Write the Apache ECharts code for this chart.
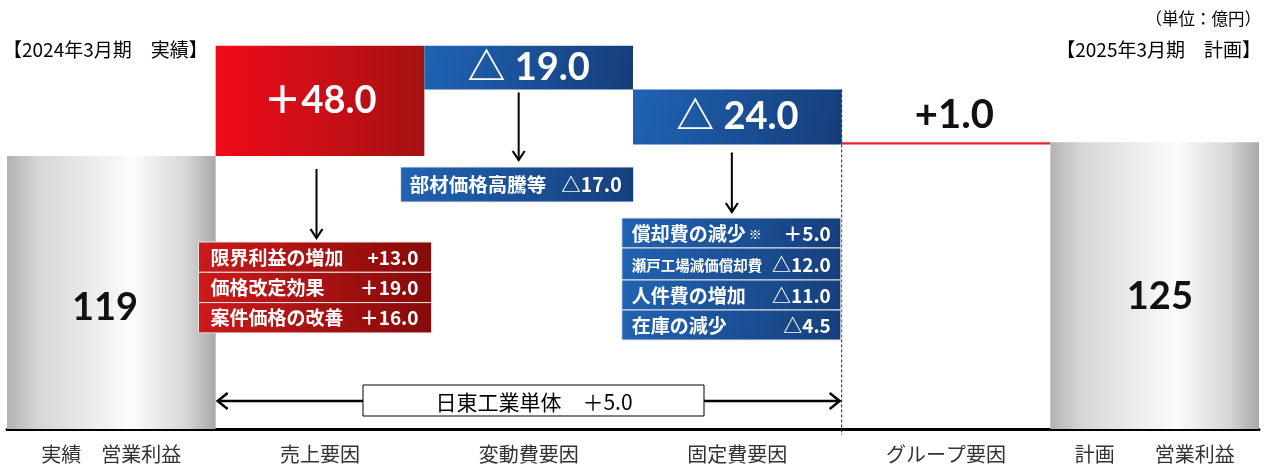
<!DOCTYPE html>
<html><head><meta charset="utf-8">
<script src="https://cdn.jsdelivr.net/npm/echarts@6/dist/echarts.min.js"></script>
<style>html,body{margin:0;padding:0;background:#fff}#c{width:1266px;height:467px}</style>
</head><body><div id="c"></div>
<script>
// ---- data ----
const categories = ['実績　営業利益', '売上要因', '変動費要因', '固定費要因', 'グループ要因', '計画　　営業利益'];
const startValue = 119;
const deltas = [48, -19, -24, 1];
const endValue = 125;
const totalLabels = ['119', '125'];
const deltaLabels = ['＋48.0', '△ 19.0', '△ 24.0', '+1.0'];
const salesItems = [['限界利益の増加', '+13.0'], ['価格改定効果', '＋19.0'], ['案件価格の改善', '＋16.0']];
const variableItems = [['部材価格高騰等', '△17.0']];
const fixedItems = [['償却費の減少', '＋5.0'], ['瀬戸工場減価償却費', '△12.0'], ['人件費の増加', '△11.0'], ['在庫の減少', '△4.5']];
const standaloneLabel = '日東工業単体　＋5.0';
const unitLabel = '（単位：億円）';
const leftTitle = '【2024年3月期　実績】';
const rightTitle = '【2025年3月期　計画】';

const JP = "'Noto Sans CJK JP', 'Noto Sans', sans-serif";
const NUM = "Lato, 'Noto Sans CJK JP', sans-serif";
const G = echarts.graphic;

const grayGrad = () => new G.LinearGradient(0, 0, 1, 0, [
  {offset: 0, color: '#b2b2b2'}, {offset: 0.15, color: '#d6d6d6'},
  {offset: 0.6, color: '#fcfcfc'}, {offset: 0.85, color: '#d8d8d8'}, {offset: 1, color: '#a8a8a8'}]);
const redGrad = () => new G.LinearGradient(0, 0, 1, 0, [
  {offset: 0, color: '#f00a1a'}, {offset: 1, color: '#a51212'}]);
const blueGrad = () => new G.LinearGradient(0, 0, 1, 1, [
  {offset: 0, color: '#1f63b4'}, {offset: 1, color: '#163d7a'}]);
const redBoxGrad = () => new G.LinearGradient(0, 0, 1, 1, [
  {offset: 0, color: '#cc1a1a'}, {offset: 1, color: '#860a0a'}]);
const blueBoxGrad = () => new G.LinearGradient(0, 0, 1, 1, [
  {offset: 0, color: '#2163b2'}, {offset: 1, color: '#163f7c'}]);

// ---- build waterfall ----
const baseData = [0];
const barData = [{
  value: startValue,
  itemStyle: {color: grayGrad()},
  label: {show: true, formatter: totalLabels[0], position: ['47%', 152], align: 'center', verticalAlign: 'middle',
    fontSize: 38, fontWeight: 'bold', fontFamily: NUM, color: '#111'}
}];
let running = startValue;
deltas.forEach((d, i) => {
  const base = d >= 0 ? running : running + d;
  baseData.push(base);
  const isGroup = i === deltas.length - 1;
  let item = {value: Math.abs(d)};
  if (isGroup) {
    item.itemStyle = {color: '#e3242b', borderColor: '#e3242b', borderWidth: 0.5};
    item.label = {show: true, formatter: deltaLabels[i], position: ['54%', -27], align: 'center', verticalAlign: 'middle',
      fontSize: 40, fontWeight: 'bold', fontFamily: NUM, color: '#111'};
  } else {
    item.itemStyle = {color: d >= 0 ? redGrad() : blueGrad()};
    item.label = {show: true, formatter: deltaLabels[i], position: 'inside',
      fontSize: 38, fontWeight: 'bold', fontFamily: NUM, color: '#fff'};
  }
  barData.push(item);
  running += d;
});
baseData.push(0);
barData.push({
  value: endValue,
  itemStyle: {color: grayGrad()},
  label: {show: true, formatter: totalLabels[1], position: ['52.5%', 155], align: 'center', verticalAlign: 'middle',
    fontSize: 38, fontWeight: 'bold', fontFamily: NUM, color: '#111'}
});

const chart = echarts.init(document.getElementById('c'), null, {renderer: 'canvas'});
chart.setOption({
  animation: false,
  backgroundColor: '#fff',
  grid: {left: 7, right: 7, top: 16, bottom: 38, containLabel: false},
  xAxis: {
    type: 'category', data: categories,
    axisLine: {lineStyle: {color: '#000', width: 3}},
    axisTick: {show: false},
    axisLabel: {fontSize: 20, fontFamily: JP, color: '#333', margin: 15, interval: 0}
  },
  yAxis: {type: 'value', min: 0, max: 180, show: false, splitLine: {show: false}},
  series: [
    {type: 'bar', stack: 'wf', data: baseData, itemStyle: {color: 'transparent'}, barCategoryGap: '0%', silent: true},
    {type: 'bar', stack: 'wf', data: barData, barCategoryGap: '0%'}
  ]
});

// ---- annotations ----
const X = i => chart.convertToPixel({xAxisIndex: 0}, categories[i]);
const Y = v => chart.convertToPixel({yAxisIndex: 0}, v);
const half = (X(1) - X(0)) / 2;
const els = [];

function text(t, x, y, opt) {
  els.push({type: 'text', z: 20, style: Object.assign({text: t, x: x, y: y, fill: '#000', fontSize: 17, fontFamily: JP,
    align: 'left', verticalAlign: 'middle'}, opt)});
}
function arrowDown(x, y1, y2) {
  els.push({type: 'polyline', z: 15, shape: {points: [[x, y1], [x, y2]]}, style: {stroke: '#000', lineWidth: 2}});
  els.push({type: 'polyline', z: 15, shape: {points: [[x - 6, y2 - 9], [x, y2], [x + 6, y2 - 9]]}, style: {stroke: '#000', lineWidth: 2.2, fill: null}});
}
function box(x, y, w, h, fill) {
  els.push({type: 'rect', z: 12, shape: {x: x, y: y, width: w, height: h}, style: {fill: fill, stroke: '#e6e6e6', lineWidth: 1}});
}

// titles
text(leftTitle, 3, 50, {fontSize: 19});
text(rightTitle, 1261, 50, {fontSize: 19, align: 'right'});
text(unitLabel, 1261, 19, {fontSize: 16.5, align: 'right'});

// sales callout
const sx = X(1) - 3.5;
arrowDown(sx, Y(startValue) + 13, 238);
salesItems.forEach((r, i) => {
  const top = 242 + i * 30.3;
  box(sx - 118, top, 233, 30.3, redBoxGrad());
  text(r[0], sx - 106, top + 15.5, {fontSize: 19, fontWeight: 'bold', fill: '#fff'});
  text(r[1], sx + 102, top + 15.5, {fontSize: 19, fontWeight: 'bold', fill: '#fff', align: 'right'});
});

// variable cost callout
const vx = X(2) - 10;
arrowDown(vx, Y(startValue + deltas[0] + deltas[1]) + 3, 160);
variableItems.forEach((r, i) => {
  box(vx - 118, 167, 233, 35, blueBoxGrad());
  text(r[0], vx - 109, 185, {fontSize: 19.5, fontWeight: 'bold', fill: '#fff'});
  text(r[1], vx + 103, 185, {fontSize: 19.5, fontWeight: 'bold', fill: '#fff', align: 'right'});
});

// fixed cost callout
const fx = X(3) - 5.5;
arrowDown(fx, Y(startValue + deltas[0] + deltas[1] + deltas[2]) + 8, 212);
const fixedTops = [218, 248, 280, 310, 340];
fixedItems.forEach((r, i) => {
  const top = fixedTops[i], h = fixedTops[i + 1] - top;
  box(fx - 110, top, 219, h, blueBoxGrad());
  const small = r[0].length > 7;
  text(r[0], fx - 100, top + h / 2 + 1, {fontSize: small ? 14.5 : 19, fontWeight: 'bold', fill: '#fff'});
  text(r[1], fx + 99, top + h / 2 + 1, {fontSize: 19, fontWeight: 'bold', fill: '#fff', align: 'right'});
});
// small note mark
text('※', fx + 17, 234, {fontSize: 13, fontWeight: 'bold', fill: '#fff'});

// dashed separator at right edge of fixed-cost bar
const dx = X(3) + half;
els.push({type: 'line', z: 10, shape: {x1: dx, y1: Y(startValue + deltas[0] + deltas[1]), x2: dx, y2: Y(0) + 6},
  style: {stroke: '#222', lineWidth: 1, lineDash: [3, 2]}});

// double arrow for standalone
const ax1 = X(1) - half + 2, ax2 = X(3) + half - 2, ay = 401;
els.push({type: 'line', z: 15, shape: {x1: ax1, y1: ay, x2: ax2, y2: ay}, style: {stroke: '#000', lineWidth: 2.5}});
els.push({type: 'polyline', z: 15, shape: {points: [[ax1 + 10, ay - 8], [ax1, ay], [ax1 + 10, ay + 8]]}, style: {stroke: '#000', lineWidth: 2.5, fill: null}});
els.push({type: 'polyline', z: 15, shape: {points: [[ax2 - 10, ay - 8], [ax2, ay], [ax2 - 10, ay + 8]]}, style: {stroke: '#000', lineWidth: 2.5, fill: null}});
els.push({type: 'rect', z: 16, shape: {x: 363, y: 385, width: 341, height: 31}, style: {fill: '#fff', stroke: '#000', lineWidth: 1}});
text(standaloneLabel, 534, 402, {fontSize: 21, align: 'center', z: 17});

chart.setOption({graphic: {elements: els}});
</script>
</body></html>
